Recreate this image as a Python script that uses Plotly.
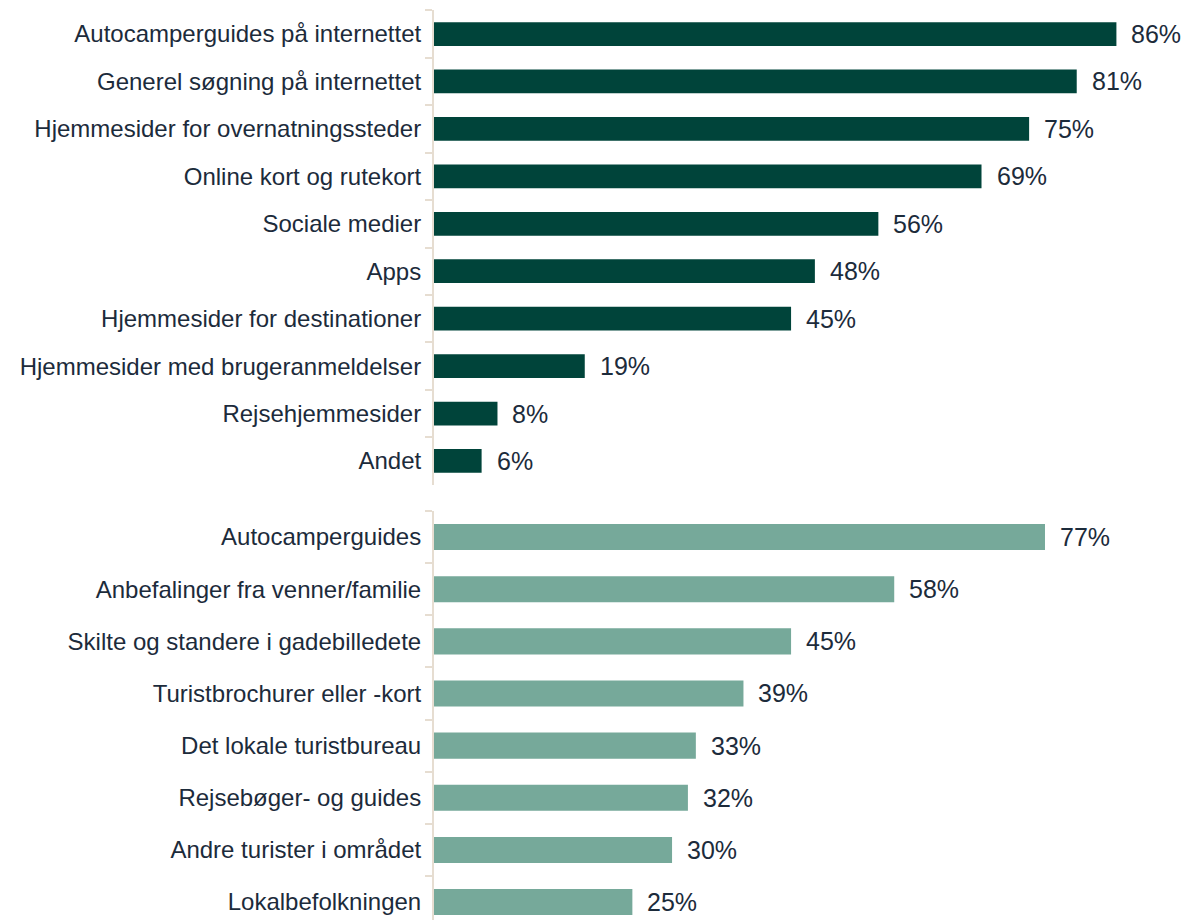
import plotly.graph_objects as go

# ==========================================
# Data
# ==========================================

online_labels = [
    "Autocamperguides på internettet",
    "Generel søgning på internettet",
    "Hjemmesider for overnatningssteder",
    "Online kort og rutekort",
    "Sociale medier",
    "Apps",
    "Hjemmesider for destinationer",
    "Hjemmesider med brugeranmeldelser",
    "Rejsehjemmesider",
    "Andet",
]
online_values = [86, 81, 75, 69, 56, 48, 45, 19, 8, 6]

offline_labels = [
    "Autocamperguides",
    "Anbefalinger fra venner/familie",
    "Skilte og standere i gadebilledete",
    "Turistbrochurer eller -kort",
    "Det lokale turistbureau",
    "Rejsebøger- og guides",
    "Andre turister i området",
    "Lokalbefolkningen",
]
offline_values = [77, 58, 45, 39, 33, 32, 30, 25]

DARK = "#00443A"
LIGHT = "#76A99A"
TEXT = "#1C2B3B"
AXIS = "#E6DDD1"
FONT = "Arial, Liberation Sans, sans-serif"

# page has an 8px body margin, so the figure is a bit smaller
W = 1181
H = 912

fig = go.Figure()

fig.add_trace(
    go.Bar(
        x=online_values,
        y=online_labels,
        orientation="h",
        width=0.5,
        marker=dict(color=DARK, line=dict(width=0)),
        xaxis="x",
        yaxis="y",
        showlegend=False,
    )
)

fig.add_trace(
    go.Bar(
        x=offline_values,
        y=offline_labels,
        orientation="h",
        width=0.5,
        marker=dict(color=LIGHT, line=dict(width=0)),
        xaxis="x2",
        yaxis="y2",
        showlegend=False,
    )
)

# value labels
for lab, val in zip(online_labels, online_values):
    fig.add_annotation(
        x=val, y=lab, xref="x", yref="y",
        text=f"{val}%", showarrow=False,
        xanchor="left", xshift=13,
        font=dict(family=FONT, size=25, color=TEXT),
    )

for lab, val in zip(offline_labels, offline_values):
    fig.add_annotation(
        x=val, y=lab, xref="x2", yref="y2",
        text=f"{val}%", showarrow=False,
        xanchor="left", xshift=13,
        font=dict(family=FONT, size=25, color=TEXT),
    )

# ==========================================
# Layout
# ==========================================

axis_x = 426
x_left = axis_x / W
x_max = (W - axis_x) / 7.935

yaxis_common = dict(
    type="category",
    showline=True,
    linecolor=AXIS,
    linewidth=2,
    ticks="outside",
    tickson="boundaries",
    ticklen=7,
    tickwidth=2,
    tickcolor=AXIS,
    ticklabelstandoff=6,
    showgrid=False,
    zeroline=False,
    tickfont=dict(family=FONT, size=24, color=TEXT),
)

top_band = 47.44
bot_band = 52.14

fig.update_layout(
    width=W,
    height=H,
    margin=dict(l=0, r=0, t=0, b=0),
    paper_bgcolor="white",
    plot_bgcolor="white",
    xaxis=dict(domain=[x_left, 1], range=[0, x_max], visible=False, anchor="y"),
    xaxis2=dict(domain=[x_left, 1], range=[0, x_max], visible=False, anchor="y2"),
    yaxis=dict(
        yaxis_common,
        anchor="x",
        domain=[1 - (2.3 + 10 * top_band) / H, 1 - 2.3 / H],
        categoryorder="array",
        categoryarray=online_labels,
        range=[len(online_labels) - 0.5, -0.5],
    ),
    yaxis2=dict(
        yaxis_common,
        anchor="x2",
        domain=[0, 1 - 503 / H],
        categoryorder="array",
        categoryarray=offline_labels,
        range=[-0.5 + (H - 503) / bot_band, -0.5],
    ),
)

fig.write_html("out.html")
